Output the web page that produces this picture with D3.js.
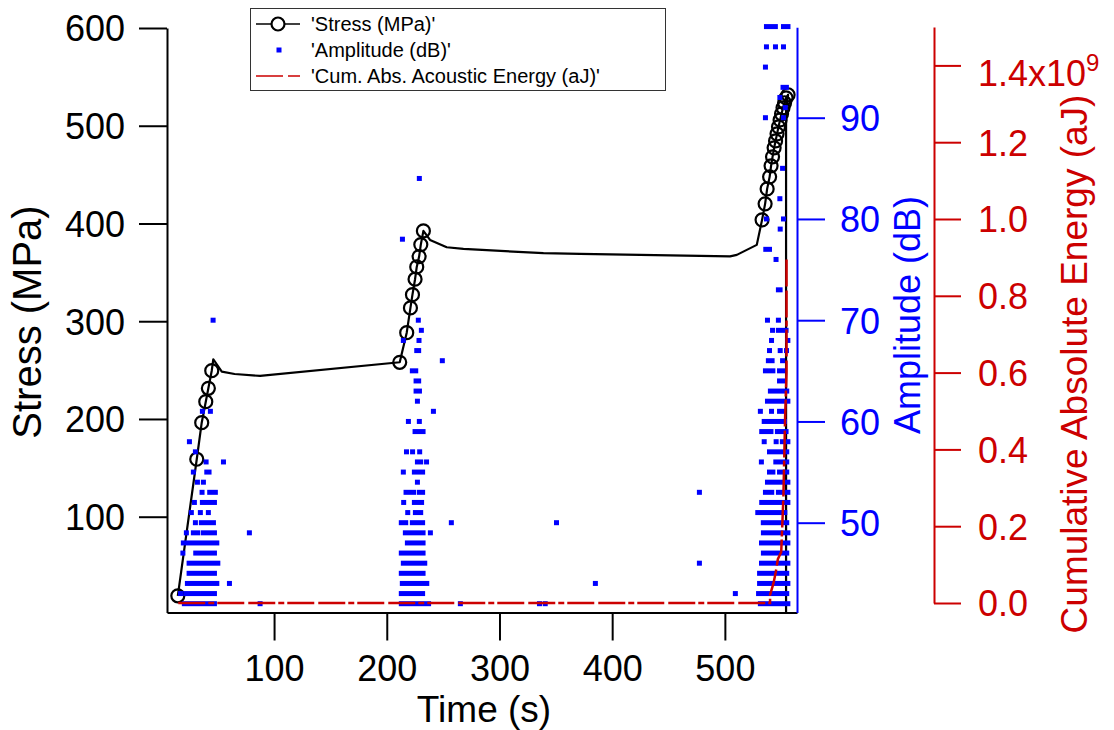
<!DOCTYPE html>
<html>
<head>
<meta charset="utf-8">
<script src="https://cdn.jsdelivr.net/npm/d3@7"></script>
<style>
  body { margin: 0; background: #fff; }
  svg { display: block; }
</style>
</head>
<body>
<div class="chart"></div>
<script>
// Tick values for the four axes
const timeTicks = [100, 200, 300, 400, 500];
const stressTicks = [100, 200, 300, 400, 500, 600];
const ampTicks = [50, 60, 70, 80, 90];
const energyTicks = [0, 0.2e9, 0.4e9, 0.6e9, 0.8e9, 1.0e9, 1.2e9, 1.4e9];

// Stress trace: [time (s), stress (MPa), marker shown]
const stressData = [
  [14.6, 19.1, 1], [31.4, 158.8, 1], [35.8, 196.2, 1], [39.4, 217.7, 1],
  [41.7, 231.4, 1], [44.7, 249.4, 1], [46.1, 261.1, 0], [53.6, 248.4, 0],
  [65.0, 246.0, 0], [87.6, 244.0, 0],
  [211.5, 258.0, 1], [217.7, 288.3, 1], [221.0, 313.6, 1], [222.8, 327.2, 1],
  [225.1, 343.0, 1], [226.6, 355.6, 1], [228.7, 366.1, 1], [230.2, 378.4, 1],
  [232.5, 392.4, 1], [238.4, 383.2, 0], [253.2, 375.7, 0], [268.0, 374.0, 0],
  [339.0, 369.6, 0], [371.5, 368.9, 0], [504.6, 366.4, 0], [510.6, 367.9, 0],
  [528.3, 378.1, 0],
  [533.0, 403.7, 1], [535.7, 420.1, 1], [537.5, 435.4, 1], [539.7, 447.7, 1],
  [541.0, 459.0, 1], [542.3, 468.2, 1], [543.7, 477.4, 1], [545.0, 484.5, 1],
  [546.3, 491.7, 1], [547.6, 498.9, 1], [549.0, 506.0, 1], [550.3, 512.2, 1],
  [551.6, 518.4, 1], [553.0, 523.5, 1], [554.3, 528.6, 1], [556.1, 531.7, 1],
  [554.3, 515.0, 0], [554.3, 2.0, 0]
];

// Amplitude hits, grouped in runs on one dB level: [dB, first time, last time]
const ampRuns = [
  // first loading step
  [42, 20.4, 47.1], [42, 87.6, 87.6],
  [43, 17.0, 17.0], [43, 21.6, 47.1],
  [44, 23.1, 49.2], [44, 60.4, 60.4],
  [45, 24.6, 47.1],
  [46, 24.6, 50.1],
  [47, 19.1, 19.1], [47, 30.5, 47.1],
  [48, 19.5, 49.2],
  [49, 22.2, 22.2], [49, 28.4, 32.3], [49, 37.3, 47.1], [49, 78.1, 78.1],
  [50, 30.2, 30.2], [50, 35.5, 46.2],
  [51, 26.6, 26.6], [51, 34.6, 34.6], [51, 41.7, 41.7],
  [52, 29.3, 29.3], [52, 36.4, 47.1],
  [53, 36.1, 36.1], [53, 42.9, 47.9],
  [54, 32.0, 32.0], [54, 37.3, 37.3],
  [55, 28.4, 28.4], [55, 40.3, 42.3],
  [56, 39.7, 39.7], [56, 55.1, 55.1],
  [57, 30.2, 30.2],
  [58, 24.9, 24.9],
  [61, 36.4, 36.4], [61, 43.5, 43.5],
  [70, 45.9, 45.9],
  // second loading step
  [42, 212.9, 237.1], [42, 265.3, 265.3], [42, 335.5, 335.5], [42, 340.6, 340.6],
  [43, 212.9, 231.8],
  [44, 213.8, 235.5],
  [45, 212.9, 232.2],
  [46, 214.7, 233.7],
  [47, 212.9, 232.2],
  [48, 218.3, 232.2],
  [49, 216.5, 232.2], [49, 238.7, 238.7],
  [50, 212.9, 216.8], [50, 222.7, 231.8], [50, 257.3, 257.3], [50, 350.6, 350.6],
  [51, 218.6, 218.6], [51, 225.4, 230.1],
  [52, 215.0, 215.0], [52, 224.5, 230.9],
  [53, 217.1, 223.9], [53, 229.0, 231.8],
  [54, 227.2, 227.2],
  [55, 214.7, 214.7], [55, 224.5, 231.8],
  [56, 227.2, 230.1], [56, 235.3, 235.3],
  [57, 217.5, 217.5], [57, 222.9, 222.9], [57, 229.2, 229.2],
  [59, 225.1, 232.2],
  [60, 219.2, 219.2], [60, 228.9, 228.9],
  [61, 241.4, 241.4],
  [62, 227.2, 227.2],
  [63, 226.0, 229.0],
  [64, 226.0, 228.3],
  [65, 222.7, 225.7],
  [66, 249.3, 249.3],
  [67, 226.6, 228.3],
  [68, 214.7, 214.7], [68, 228.6, 228.6],
  [69, 230.7, 230.7],
  [70, 228.0, 228.0],
  [78, 213.9, 213.9],
  [84, 228.9, 228.9],
  // isolated hits during the hold
  [44, 385.1, 385.1], [53, 477.4, 477.4], [46, 477.4, 477.4], [43, 509.3, 509.3],
  // final loading to failure
  [42, 531.5, 555.9],
  [43, 529.9, 554.9],
  [44, 530.8, 555.9],
  [45, 530.8, 554.9],
  [46, 532.5, 555.9],
  [47, 534.2, 554.9],
  [48, 532.5, 555.9],
  [49, 534.2, 555.9],
  [50, 534.1, 554.9],
  [51, 529.2, 553.2],
  [52, 532.7, 555.9],
  [53, 536.0, 541.6], [53, 547.5, 555.9],
  [54, 537.8, 555.9],
  [55, 539.6, 542.6], [55, 548.5, 554.9],
  [56, 532.4, 532.4], [56, 545.2, 554.9],
  [57, 539.6, 554.9],
  [58, 534.9, 534.9], [58, 545.5, 545.5], [58, 551.0, 555.9],
  [59, 532.7, 540.9], [59, 546.6, 554.3],
  [60, 534.9, 543.2], [60, 547.5, 552.9],
  [61, 531.5, 531.5], [61, 541.4, 541.4], [61, 548.5, 551.5],
  [62, 537.8, 555.9],
  [63, 540.4, 554.9],
  [64, 548.5, 548.5], [64, 552.9, 552.9],
  [65, 536.0, 542.6], [65, 548.5, 551.5],
  [66, 538.6, 541.9], [66, 551.2, 551.2],
  [67, 539.6, 539.6], [67, 549.1, 549.1], [67, 554.7, 554.7],
  [68, 541.4, 541.4], [68, 555.9, 555.9],
  [69, 542.3, 542.3], [69, 547.5, 554.3],
  [70, 537.8, 537.8], [70, 547.5, 547.5],
  [73, 547.5, 549.0],
  [76, 545.4, 545.4],
  [77, 536.3, 539.6],
  [79, 549.1, 549.1],
  [80, 536.9, 536.9], [80, 552.0, 552.0],
  [82, 548.8, 548.8],
  [85, 551.2, 551.2],
  [90, 536.0, 536.0], [90, 552.0, 552.0],
  [91, 553.6, 553.6],
  [92, 548.8, 548.8],
  [93, 551.6, 554.6],
  [95, 536.0, 536.0],
  [97, 536.9, 536.9], [97, 544.9, 544.9], [97, 552.0, 552.0],
  [99, 536.9, 544.8], [99, 552.0, 556.0]
];

// Cumulative absolute acoustic energy: [time (s), energy (aJ)]
const energyData = [
  [15.0, 0], [540.1, 0], [540.1, 0.021e9], [543.1, 0.051e9], [545.2, 0.081e9],
  [547.0, 0.114e9], [550.0, 0.133e9], [551.9, 0.273e9], [553.5, 0.488e9],
  [554.7, 0.6e9], [554.7, 0.895e9]
];

const W = 1114, H = 730;
const FONT = '"Liberation Sans", Arial, Helvetica, sans-serif';
const BLUE = '#0000ff';
const RED = '#cc0000';
const plot = {left: 167, right: 797, top: 28, bottom: 612.5};

const svg = d3.select('.chart').append('svg')
    .attr('width', W)
    .attr('height', H)
    .style('font-family', FONT);

// scales
const x = d3.scaleLinear().domain([5, 564]).range([plot.left, plot.right]);
const yStress = d3.scaleLinear().domain([2, 600]).range([plot.bottom, plot.top]);
const yAmp = d3.scaleLinear().domain([41.13, 98.93]).range([plot.bottom, 27.3]);
const yEnergy = d3.scaleLinear().domain([0, 1.5e9]).range([603, 27]);

function styleAxis(g, color, size) {
  g.attr('font-family', FONT).attr('font-size', size);
  g.select('.domain').attr('stroke', color).attr('stroke-width', 2);
  g.selectAll('.tick line').attr('stroke', color).attr('stroke-width', 2);
  g.selectAll('.tick text').attr('fill', color);
}

// left stress axis
svg.append('g')
    .attr('transform', `translate(${plot.left},0)`)
    .call(d3.axisLeft(yStress).tickValues(stressTicks).tickSize(28).tickSizeOuter(0).tickPadding(14))
    .call(g => styleAxis(g, '#000', 36))
    .call(g => g.selectAll('.tick text').attr('dy', '0.36em'));

// bottom time axis
svg.append('g')
    .attr('transform', `translate(0,${plot.bottom})`)
    .call(d3.axisBottom(x).tickValues(timeTicks).tickSize(28).tickSizeOuter(0).tickPadding(15))
    .call(g => styleAxis(g, '#000', 36));

// right amplitude axis
svg.append('g')
    .attr('transform', `translate(${plot.right},0)`)
    .call(d3.axisRight(yAmp).tickValues(ampTicks).tickSize(28).tickSizeOuter(0).tickPadding(15))
    .call(g => styleAxis(g, BLUE, 36))
    .call(g => g.selectAll('.tick text').attr('dy', '0.36em'));

// far right energy axis
const energyAxis = svg.append('g')
    .attr('transform', 'translate(934,0)')
    .call(d3.axisRight(yEnergy).tickValues(energyTicks).tickSize(27).tickSizeOuter(0).tickPadding(17)
      .tickFormat(d => (d / 1e9).toFixed(1)))
    .call(g => styleAxis(g, RED, 36))
    .call(g => g.selectAll('.tick text').attr('dy', '0.36em'));

energyAxis.selectAll('.tick text')
    .filter(d => d === 1.4e9)
    .attr('dy', '0.55em')
    .text('1.4x10')
    .append('tspan')
    .attr('dy', '-0.62em')
    .attr('font-size', 24)
    .text('9');

// axis titles
svg.append('text')
    .attr('transform', 'translate(41,322) rotate(-90)')
    .attr('text-anchor', 'middle')
    .attr('font-size', 40)
    .text('Stress (MPa)');

svg.append('text')
    .attr('x', 484)
    .attr('y', 722)
    .attr('text-anchor', 'middle')
    .attr('font-size', 37)
    .text('Time (s)');

svg.append('text')
    .attr('transform', 'translate(920,315) rotate(-90)')
    .attr('text-anchor', 'middle')
    .attr('font-size', 36)
    .attr('fill', BLUE)
    .text('Amplitude (dB)');

svg.append('text')
    .attr('transform', 'translate(1087,364) rotate(-90)')
    .attr('text-anchor', 'middle')
    .attr('font-size', 37)
    .attr('fill', RED)
    .text('Cumulative Absolute Energy (aJ)');

// stress line and markers
const stressLine = d3.line()
    .x(d => x(d[0]))
    .y(d => yStress(d[1]));

svg.append('path')
    .datum(stressData)
    .attr('fill', 'none')
    .attr('stroke', '#000')
    .attr('stroke-width', 2.2)
    .attr('stroke-linejoin', 'round')
    .attr('d', stressLine);

svg.append('g')
  .selectAll('circle')
  .data(stressData.filter(d => d[2]))
  .join('circle')
    .attr('cx', d => x(d[0]))
    .attr('cy', d => yStress(d[1]))
    .attr('r', 6.5)
    .attr('fill', 'none')
    .attr('stroke', '#000')
    .attr('stroke-width', 2.2);

// amplitude hits
svg.append('g')
  .selectAll('rect')
  .data(ampRuns)
  .join('rect')
    .attr('x', d => x(d[1]) - 2.5)
    .attr('width', d => x(d[2]) - x(d[1]) + 5)
    .attr('y', d => yAmp(d[0]) - 2.5)
    .attr('height', 5)
    .attr('fill', BLUE);

// cumulative energy
const energyLine = d3.line()
    .x(d => x(d[0]))
    .y(d => yEnergy(d[1]));

svg.append('path')
    .datum(energyData)
    .attr('fill', 'none')
    .attr('stroke', RED)
    .attr('stroke-width', 2.5)
    .attr('stroke-dasharray', '27,3,6,3,27,4')
    .attr('d', energyLine);

// legend
const legend = svg.append('g');
legend.append('rect')
    .attr('x', 250.5).attr('y', 8.5)
    .attr('width', 415).attr('height', 82)
    .attr('fill', '#fff')
    .attr('stroke', '#333')
    .attr('stroke-width', 1);

legend.append('line')
    .attr('x1', 256).attr('x2', 300).attr('y1', 24).attr('y2', 24)
    .attr('stroke', '#000').attr('stroke-width', 1.3);
legend.append('circle')
    .attr('cx', 278).attr('cy', 24).attr('r', 6.5)
    .attr('fill', '#fff').attr('stroke', '#000').attr('stroke-width', 2.2);
legend.append('rect')
    .attr('x', 276.5).attr('y', 47.5).attr('width', 5).attr('height', 5)
    .attr('fill', BLUE);
legend.append('line')
    .attr('x1', 256).attr('x2', 300).attr('y1', 76).attr('y2', 76)
    .attr('stroke', RED).attr('stroke-width', 1.5)
    .attr('stroke-dasharray', '27,5,14');

const legendLabels = ["'Stress (MPa)'", "'Amplitude (dB)'", "'Cum. Abs. Acoustic Energy (aJ)'"];
legend.selectAll('text.lab')
  .data(legendLabels)
  .join('text')
    .attr('class', 'lab')
    .attr('x', 311)
    .attr('y', (d, i) => 31 + i * 26)
    .attr('font-size', 20)
    .text(d => d);
</script>
</body>
</html>
